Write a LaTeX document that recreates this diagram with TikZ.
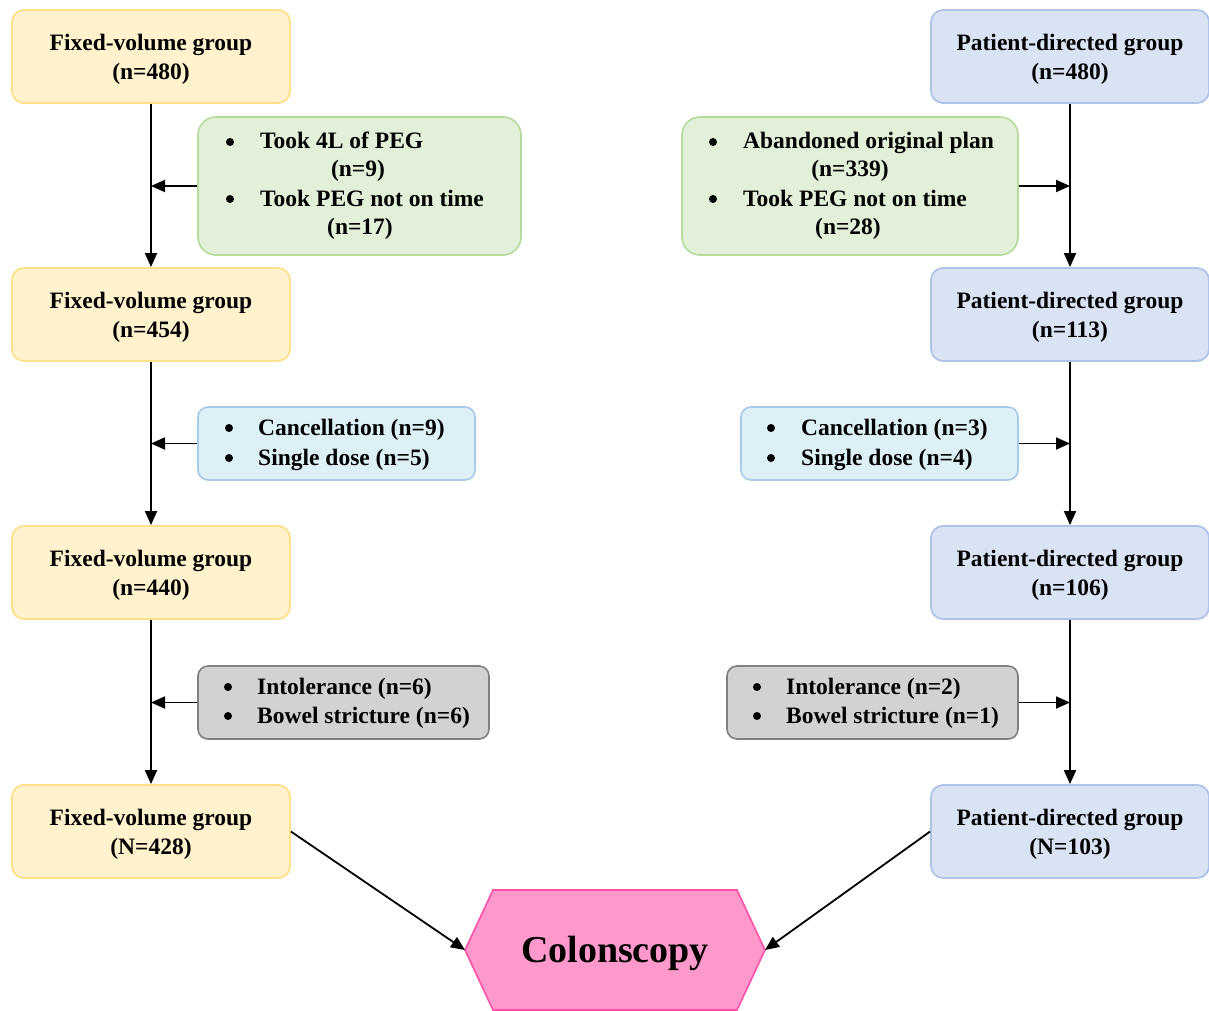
\documentclass[tikz,border=0pt]{standalone}
\usepackage{fontspec}
\setmainfont{Liberation Serif}
\usetikzlibrary{arrows.meta}
\definecolor{yfill}{HTML}{FFF2CC}
\definecolor{ydraw}{HTML}{FFE08A}
\definecolor{bfill}{HTML}{DAE3F3}
\definecolor{bdraw}{HTML}{AFC3E8}
\definecolor{gfill}{HTML}{E2F0D9}
\definecolor{gdraw}{HTML}{B5DA9A}
\definecolor{cfill}{HTML}{DDF0F5}
\definecolor{cdraw}{HTML}{A8CBEA}
\definecolor{kfill}{HTML}{D3D1D1}
\definecolor{kdraw}{HTML}{808080}
\definecolor{pfill}{HTML}{FF99CC}
\definecolor{pdraw}{HTML}{FF4FA7}
\begin{document}
\begin{tikzpicture}[x=1pt,y=-1pt,
  bigfont/.style={font=\fontsize{23.5}{29}\selectfont\bfseries},
  grp/.style={rounded corners=12pt, line width=1.8pt, minimum width=278pt,
    minimum height=93pt, inner sep=0pt},
  fv/.style={grp, fill=yfill, draw=ydraw},
  pd/.style={grp, fill=bfill, draw=bdraw},
  grptxt/.style={bigfont, align=center, inner sep=0pt},
  notebox/.style={line width=1.6pt, inner sep=0pt},
  gbox/.style={notebox, rounded corners=18pt, fill=gfill, draw=gdraw},
  cbox/.style={notebox, rounded corners=10pt, fill=cfill, draw=cdraw},
  kbox/.style={notebox, rounded corners=10pt, fill=kfill, draw=kdraw},
  txt/.style={bigfont, inner sep=0pt, anchor=base west},
  ctxt/.style={bigfont, inner sep=0pt, anchor=base},
  bul/.style={circle, fill=black, inner sep=0pt, minimum size=8pt},
  arr/.style={line width=1.8pt, -{Triangle[length=14pt,width=12pt]}}
]
\useasboundingbox[fill=white] (0,0) rectangle (1209,1011);

% main group boxes
\node[fv] (f1) at (151,56.5) {};
\node[fv] (f2) at (151,314.5) {};
\node[fv] (f3) at (151,572.5) {};
\node[fv] (f4) at (151,831.5) {};
\node[pd] (p1) at (1070,56.5) {};
\node[pd] (p2) at (1070,314.5) {};
\node[pd] (p3) at (1070,572.5) {};
\node[pd] (p4) at (1070,831.5) {};
\node[grptxt] (f1t) at (151,59.5) {Fixed-volume group\\(n=480)};
\node[grptxt] (f2t) at (151,317.5) {Fixed-volume group\\(n=454)};
\node[grptxt] (f3t) at (151,575.5) {Fixed-volume group\\(n=440)};
\node[grptxt] (f4t) at (151,834.5) {Fixed-volume group\\(N=428)};
\node[grptxt] (p1t) at (1070,59.5) {Patient-directed group\\(n=480)};
\node[grptxt] (p2t) at (1070,317.5) {Patient-directed group\\(n=113)};
\node[grptxt] (p3t) at (1070,575.5) {Patient-directed group\\(n=106)};
\node[grptxt] (p4t) at (1070,834.5) {Patient-directed group\\(N=103)};

% note boxes
\node[gbox, minimum width=323pt, minimum height=138pt] (gL) at (359.5,186) {};
\node[gbox, minimum width=336pt, minimum height=138pt] (gR) at (850,186) {};
\node[cbox, minimum width=277pt, minimum height=73pt] (cL) at (336.5,443.5) {};
\node[cbox, minimum width=277pt, minimum height=73pt] (cR) at (879.5,443.5) {};
\node[kbox, minimum width=291pt, minimum height=73pt] (kL) at (343.5,702.5) {};
\node[kbox, minimum width=291pt, minimum height=73pt] (kR) at (872.5,702.5) {};

% green left texts
\node[bul] (gLb1) at (230,142) {};
\node[txt] (gLt1) at (260,149) {Took 4L of PEG};
\node[ctxt] (gLt2) at (358,177) {(n=9)};
\node[bul] (gLb2) at (230,199) {};
\node[txt] (gLt3) at (260,206) {Took PEG not on time};
\node[ctxt] (gLt4) at (360,234) {(n=17)};
% green right texts
\node[bul] (gRb1) at (713,142) {};
\node[txt] (gRt1) at (743,149) {Abandoned original plan};
\node[ctxt] (gRt2) at (850,177) {(n=339)};
\node[bul] (gRb2) at (713,199) {};
\node[txt] (gRt3) at (743,206) {Took PEG not on time};
\node[ctxt] (gRt4) at (848,234) {(n=28)};
% cyan texts
\node[bul] (cLb1) at (229,428) {};
\node[txt] (cLt1) at (258,435) {Cancellation (n=9)};
\node[bul] (cLb2) at (229,458) {};
\node[txt] (cLt2) at (258,465) {Single dose (n=5)};
\node[bul] (cRb1) at (771,428) {};
\node[txt] (cRt1) at (801,435) {Cancellation (n=3)};
\node[bul] (cRb2) at (771,458) {};
\node[txt] (cRt2) at (801,465) {Single dose (n=4)};
% grey texts
\node[bul] (kLb1) at (228,687) {};
\node[txt] (kLt1) at (257,694) {Intolerance (n=6)};
\node[bul] (kLb2) at (228,716) {};
\node[txt] (kLt2) at (257,723) {Bowel stricture (n=6)};
\node[bul] (kRb1) at (757,687) {};
\node[txt] (kRt1) at (786,694) {Intolerance (n=2)};
\node[bul] (kRb2) at (757,716) {};
\node[txt] (kRt2) at (786,723) {Bowel stricture (n=1)};

% hexagon
\coordinate (hexW) at (465,950);
\coordinate (hexE) at (765,950);
\draw[fill=pfill, draw=pdraw, line width=1.6pt]
  (hexW) -- (493,890) -- (737,890) -- (hexE) -- (737,1010) -- (493,1010) -- cycle;
\node[font=\fontsize{38}{40}\selectfont\bfseries, inner sep=0pt, anchor=base] (colo) at (615,962) {Colonscopy};

% vertical arrows
\draw[arr] (f1.south) -- (f2.north);
\draw[arr] (f2.south) -- (f3.north);
\draw[arr] (f3.south) -- (f4.north);
\draw[arr] (p1.south) -- (p2.north);
\draw[arr] (p2.south) -- (p3.north);
\draw[arr] (p3.south) -- (p4.north);
% side arrows
\draw[arr] (gL.west) -- (f1.south |- gL.west);
\draw[arr] (cL.west) -- (f2.south |- cL.west);
\draw[arr] (kL.west) -- (f3.south |- kL.west);
\draw[arr] (gR.east) -- (p1.south |- gR.east);
\draw[arr] (cR.east) -- (p2.south |- cR.east);
\draw[arr] (kR.east) -- (p3.south |- kR.east);
% to colonoscopy
\draw[arr] (f4.east) -- (hexW);
\draw[arr] (p4.west) -- (hexE);
\end{tikzpicture}
\end{document}
